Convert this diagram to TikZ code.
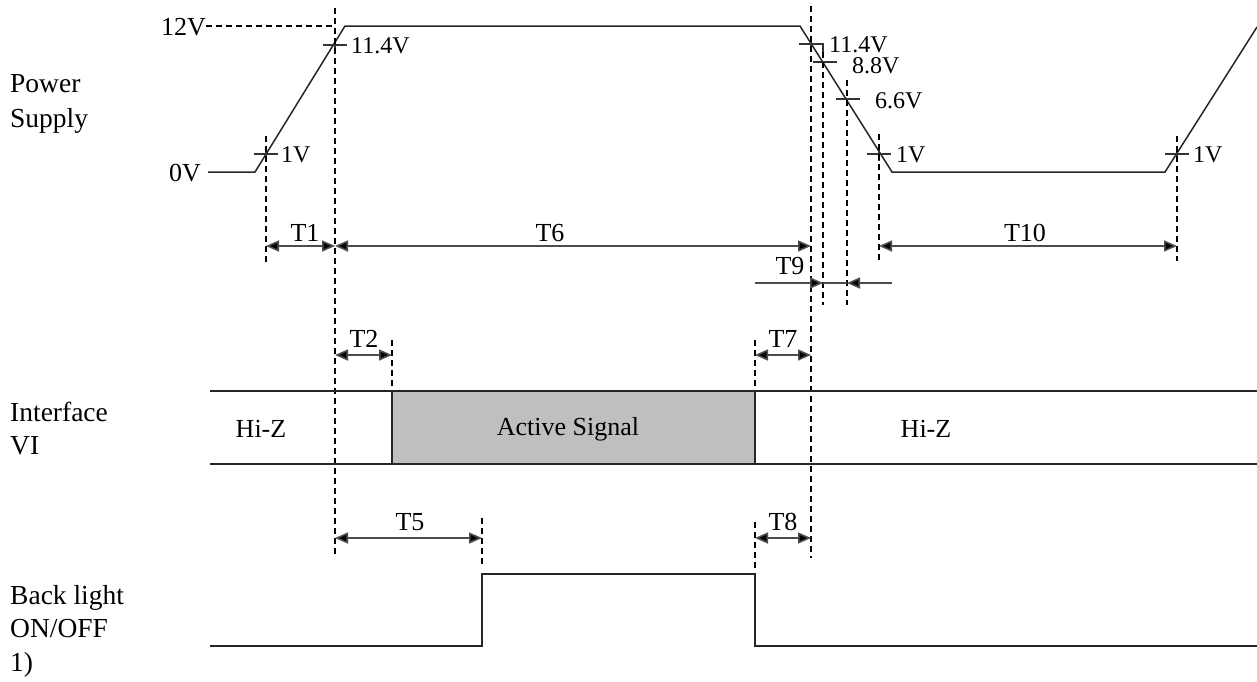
\documentclass[tikz,border=0pt]{standalone}
\usepackage{fontspec}
\setmainfont{Liberation Serif}
\usetikzlibrary{arrows.meta}
\begin{document}
\begin{tikzpicture}[x=1pt,y=-1pt,
  lbl/.style={font=\fontsize{26}{30}\selectfont, inner sep=0pt},
  volt/.style={font=\fontsize{24}{28}\selectfont, inner sep=0pt, anchor=base west},
  side/.style={font=\fontsize{27.5}{30}\selectfont, inner sep=0pt, anchor=base west},
  wave/.style={line width=1.5pt, black!85},
  guide/.style={line width=1.4pt, dash pattern=on 6pt off 4pt, black},
  tipA/.tip={Triangle[length=13pt,width=11pt,fill=black]},
  dim/.style={line width=1.6pt, black!70, tipA-tipA},
  dimr/.style={line width=1.6pt, black!70, -tipA},
  tick/.style={line width=1.4pt, black!80}]
\useasboundingbox[fill=white] (0,0) rectangle (1257,681);

% ---- left labels
\node[side] (ps1) at (10,92) {Power};
\node[side] (ps2) at (10,127) {Supply};
\node[side] (if1) at (10,421) {Interface};
\node[side] (if2) at (10,454) {VI};
\node[side] (bl1) at (10,604) {Back light};
\node[side] (bl2) at (10,637) {ON/OFF};
\node[side] (bl3) at (10,671) {1)};

% ---- power supply waveform
\coordinate (p0) at (208,172);
\coordinate (p1) at (255,172);
\coordinate (p2) at (345,26);
\coordinate (p3) at (800,26);
\coordinate (p4) at (892,172);
\coordinate (p5) at (1165,172);
\coordinate (p6) at (1257,27);
\draw[wave] (p0) -- (p1) -- (p2) -- (p3) -- (p4) -- (p5) -- (p6);

\node[lbl,anchor=base east] (v12) at (206,35) {12V};
\node[lbl,anchor=base east] (v0) at (201,181) {0V};
\coordinate (d12) at (335,26);
\draw[guide] (v12.east |- d12) -- (d12);

% ticks and voltage labels
\node[volt] (a114) at (351,53) {11.4V};
\node[volt] (a1) at (281,162) {1V};
\node[volt] (b114) at (829,52) {11.4V};
\node[volt] (b88) at (852,73) {8.8V};
\node[volt] (b66) at (875,108) {6.6V};
\node[volt] (b1) at (896,162) {1V};
\node[volt] (c1) at (1193,162) {1V};

\foreach \x/\y in {266/154, 335/45, 811/44, 879/154, 1177/154}{
  \draw[tick] (\x-12,\y) -- (\x+12,\y);
  \draw[tick] (\x,\y-7) -- (\x,\y+7);
}
\draw[tick] (813,62) -- (837,62);
\draw[tick] (836,99) -- (860,99);
\draw[tick] (823,43) -- (823,52);

% ---- vertical guide lines
\coordinate (g266t) at (266,136); \coordinate (g266b) at (266,262);
\coordinate (g335t) at (335,8);   \coordinate (g335b) at (335,557);
\coordinate (g811t) at (811,6);   \coordinate (g811b) at (811,558);
\coordinate (g823t) at (823,52);  \coordinate (g823b) at (823,305);
\coordinate (g847t) at (847,80);  \coordinate (g847b) at (847,305);
\coordinate (g879t) at (879,134); \coordinate (g879b) at (879,261);
\coordinate (g1177t) at (1177,136); \coordinate (g1177b) at (1177,261);
\coordinate (g392t) at (392,340); \coordinate (g392b) at (392,386);
\coordinate (g755t) at (755,340); \coordinate (g755b) at (755,386);
\coordinate (g755c) at (755,522); \coordinate (g755d) at (755,568);
\coordinate (g482t) at (482,518); \coordinate (g482b) at (482,566);
\foreach \n in {266,335,811,823,847,879,1177,392,755,482}{
  \draw[guide] (g\n t) -- (g\n b);
}
\draw[guide] (g755c) -- (g755d);

% ---- dimension arrows row 1
\coordinate (t1a) at (266,246); \coordinate (t1b) at (335,246);
\coordinate (t6b) at (811,246);
\coordinate (t10a) at (879,246); \coordinate (t10b) at (1177,246);
\draw[dim] (t1a) -- (t1b);
\draw[dim] (t1b) -- (t6b);
\draw[dim] (t10a) -- (t10b);
\node[lbl,anchor=base] (T1) at (305,241) {T1};
\node[lbl,anchor=base] (T6) at (550,241) {T6};
\node[lbl,anchor=base] (T10) at (1025,241) {T10};

% T9
\coordinate (t9s) at (755,283); \coordinate (t9a) at (823,283);
\coordinate (t9b) at (847,283); \coordinate (t9e) at (892,283);
\draw[dimr] (t9s) -- (t9a);
\draw[line width=1.6pt, black!70] (t9a) -- (t9b);
\draw[dimr] (t9e) -- (t9b);
\node[lbl,anchor=base] (T9) at (790,274) {T9};

% ---- interface VI
\coordinate (ifa) at (210,391); \coordinate (ifb) at (1257,391);
\coordinate (ifc) at (210,464); \coordinate (ifd) at (1257,464);
\draw[wave] (ifa) -- (ifb);
\draw[wave] (ifc) -- (ifd);
\coordinate (acta) at (392,391); \coordinate (actb) at (755,464);
\draw[wave, fill=black!25] (acta) rectangle (actb);
\node[lbl] (hz1) at (261,429) {Hi-Z};
\node[lbl] (act) at (568,429) {Active Signal};
\node[lbl] (hz2) at (926,429) {Hi-Z};

\coordinate (t2a) at (335,355); \coordinate (t2b) at (392,355);
\coordinate (t7a) at (755,355); \coordinate (t7b) at (811,355);
\draw[dim] (t2a) -- (t2b);
\draw[dim] (t7a) -- (t7b);
\node[lbl,anchor=base] (T2) at (364,347) {T2};
\node[lbl,anchor=base] (T7) at (783,347) {T7};

% ---- back light
\coordinate (t5a) at (335,538); \coordinate (t5b) at (482,538);
\coordinate (t8a) at (755,538); \coordinate (t8b) at (811,538);
\draw[dim] (t5a) -- (t5b);
\draw[dim] (t8a) -- (t8b);
\node[lbl,anchor=base] (T5) at (410,530) {T5};
\node[lbl,anchor=base] (T8) at (783,530) {T8};

\coordinate (bla) at (210,646); \coordinate (blb) at (482,646);
\coordinate (blc) at (482,574); \coordinate (bld) at (755,574);
\coordinate (ble) at (755,646); \coordinate (blf) at (1257,646);
\draw[wave] (bla) -- (blb) -- (blc) -- (bld) -- (ble) -- (blf);
\end{tikzpicture}
\end{document}
